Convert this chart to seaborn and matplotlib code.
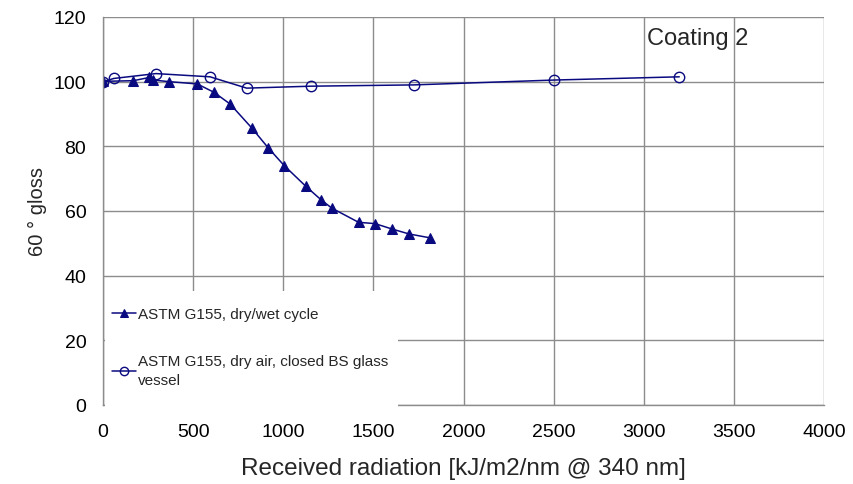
import matplotlib
matplotlib.use("Agg")
import matplotlib.pyplot as plt
from matplotlib.patches import Rectangle
import seaborn as sns
import pandas as pd

sns.set_style("white")
plt.rcParams['font.family'] = ['Liberation Sans', 'DejaVu Sans']

# Data
wet_x = [0, 168, 257, 279, 368, 523, 616, 705, 825, 917, 1006, 1126, 1209, 1269, 1418, 1509, 1605, 1698, 1814]
wet_y = [100.1, 100.3, 101.3, 100.5, 100.0, 99.3, 96.7, 93.1, 85.7, 79.5, 74.0, 67.6, 63.5, 60.9, 56.5, 56.1, 54.4, 52.9, 51.7]
dry_x = [0, 61, 294, 594, 797, 1152, 1725, 2502, 3197]
dry_y = [100.0, 101.0, 102.5, 101.5, 98.0, 98.6, 99.0, 100.5, 101.5]
label_wet = "ASTM G155, dry/wet cycle"
label_dry = "ASTM G155, dry air, closed BS glass\nvessel"
xticks = [0, 500, 1000, 1500, 2000, 2500, 3000, 3500, 4000]
yticks = [0, 20, 40, 60, 80, 100, 120]

navy = "#0a0a80"
grid_c = "#8c8c8c"

fig = plt.figure(figsize=(8.54, 4.85), dpi=100)
ax = fig.add_axes([103/854, 1-406/485, (824-103)/854, (406-18)/485])

df_wet = pd.DataFrame({"x": wet_x, "y": wet_y})
df_dry = pd.DataFrame({"x": dry_x, "y": dry_y})

sns.lineplot(data=df_wet, x="x", y="y", ax=ax, sort=False, color=navy, lw=1.1,
             marker="^", markersize=7.5, markeredgecolor=navy, markerfacecolor=navy,
             label=label_wet, zorder=4)
sns.lineplot(data=df_dry, x="x", y="y", ax=ax, sort=False, color=navy, lw=1.1,
             marker="o", markersize=7.5, markeredgecolor=navy, markerfacecolor="none",
             markeredgewidth=1.0, label=label_dry, zorder=3)

ax.set_xlim(0, 4000)
ax.set_ylim(0, 120)
ax.set_xticks(xticks)
ax.set_yticks(yticks)
ax.grid(True, color=grid_c, lw=1.0)
ax.set_axisbelow(True)
for s in ["top", "right"]:
    ax.spines[s].set_visible(False)
for s in ["left", "bottom"]:
    ax.spines[s].set_color(grid_c)
    ax.spines[s].set_linewidth(1.0)
ax.spines["left"].set_zorder(7)
ax.spines["bottom"].set_zorder(1)
ax.tick_params(axis="both", direction="inout", length=8, width=1, color=grid_c,
               labelsize=14, labelcolor="black")
ax.tick_params(axis="x", pad=9)
ax.tick_params(axis="y", pad=8)

ax.set_xlabel("Received radiation [kJ/m2/nm @ 340 nm]", fontsize=17.5, labelpad=12)
ax.set_ylabel("60 ° gloss", fontsize=14.5, labelpad=5)

ax.text((647-103)/721, (406-45)/388, "Coating 2", transform=ax.transAxes,
        ha="left", va="baseline", fontsize=17, zorder=2)

# white box behind legend
ax.add_patch(Rectangle((0.003, -0.006), 0.406, 0.300, transform=ax.transAxes,
                       facecolor="white", edgecolor="none", zorder=5, clip_on=False))

leg = ax.legend(loc="upper left", bbox_to_anchor=(0.012, 0.252), frameon=False, fontsize=11,
                handlelength=1.6, handletextpad=0.1, labelspacing=2.15, borderpad=0.0,
                borderaxespad=0.0)
leg.set_zorder(6)
for t in leg.get_texts():
    t.set_linespacing(1.45)
for h in leg.legend_handles:
    h.set_markersize(6)

fig.savefig("out.png", dpi=100)
